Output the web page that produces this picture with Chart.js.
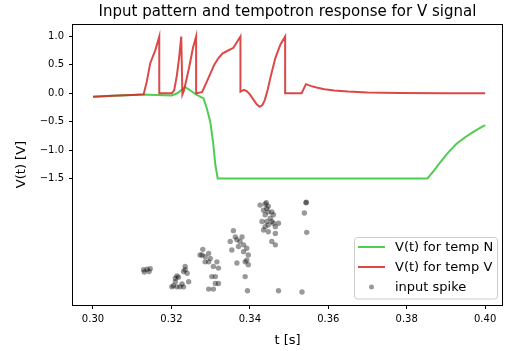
<!DOCTYPE html>
<html>
<head>
<meta charset="utf-8">
<script src="https://cdn.jsdelivr.net/npm/chart.js@4.4.0/dist/chart.umd.min.js"></script>
<style>
  html, body { margin: 0; padding: 0; background: #fff; }
  #wrap { width: 507px; height: 351px; }
</style>
</head>
<body>
<div id="wrap"><canvas id="chart" width="507" height="351"></canvas></div>
<script>
// Ticks
const xTicks = [0.30, 0.32, 0.34, 0.36, 0.38, 0.40];
const yTicks = [-1.5, -1.0, -0.5, 0.0, 0.5, 1.0];

// V(t) for temp N
const tempNTime = [0.300, 0.305, 0.310, 0.3127, 0.3160, 0.3201, 0.3215, 0.3235, 0.3250, 0.3265,
  0.3282, 0.3290, 0.3299, 0.3306, 0.3312, 0.3318, 0.3853, 0.3870, 0.3885, 0.3905, 0.3927,
  0.3950, 0.3970, 0.3985, 0.4000];
const tempNV = [-0.06, -0.045, -0.03, -0.02, -0.03, -0.04, 0.0, 0.11, 0.04, -0.03,
  -0.09, -0.26, -0.5, -0.85, -1.26, -1.5, -1.5, -1.36, -1.22, -1.05, -0.89,
  -0.77, -0.68, -0.62, -0.56];

// V(t) for temp V
const tempVTime = [0.300, 0.305, 0.310, 0.3129, 0.3137, 0.3146, 0.3159, 0.3169, 0.3169,
  0.3201, 0.3207, 0.3214, 0.3220, 0.3225, 0.3228, 0.3232, 0.3245, 0.3255, 0.3263, 0.3263,
  0.3278, 0.3290, 0.3309, 0.3320, 0.3330, 0.3341, 0.3358, 0.3376, 0.3376,
  0.3385, 0.3392, 0.3400, 0.3410, 0.3418, 0.3425, 0.3432, 0.3438, 0.3445, 0.3455, 0.3465,
  0.3478, 0.3490, 0.3490, 0.3532, 0.3543, 0.3555, 0.3570, 0.3590, 0.3615, 0.3650, 0.3700,
  0.3780, 0.3900, 0.4000];
const tempVV = [-0.06, -0.045, -0.03, -0.02, 0.2, 0.53, 0.76, 1.0, 0.0,
  0.0, 0.05, 0.32, 0.65, 1.0, -0.02, 0.05, 0.45, 0.8, 1.0, 0.0,
  0.02, 0.2, 0.5, 0.62, 0.70, 0.74, 0.80, 1.0, 0.03,
  0.06, 0.04, -0.02, -0.12, -0.20, -0.24, -0.21, -0.12, 0.05, 0.35, 0.62,
  0.86, 1.0, 0.0, 0.0, 0.16, 0.13, 0.10, 0.07, 0.05, 0.03, 0.015,
  0.005, 0.0, 0.0];

// input spikes (time, row)
const spikeT = [
  0.3129, 0.3138, 0.3143, 0.3131, 0.3146,
  0.3235, 0.3231, 0.3240, 0.3214, 0.3210, 0.3218, 0.3205, 0.3214, 0.3231, 0.3244, 0.3227, 0.3210, 0.3235, 0.3201, 0.3222,
  0.3280, 0.3278, 0.3286, 0.3295, 0.3299, 0.3286, 0.3295, 0.3316, 0.3307, 0.3320, 0.3312, 0.3303, 0.3312, 0.3295, 0.3307, 0.3320, 0.3273,
  0.3358, 0.3350, 0.3363, 0.3367, 0.3380, 0.3375, 0.3354, 0.3371, 0.3384, 0.3392, 0.3384, 0.3396, 0.3392, 0.3388, 0.3396, 0.3367, 0.3388, 0.3394,
  0.3426, 0.3439, 0.3443, 0.3435, 0.3447, 0.3456, 0.3460, 0.3439, 0.3452, 0.3431, 0.3443, 0.3456, 0.3473, 0.3447, 0.3465, 0.3435, 0.3447, 0.3465,
  0.3456, 0.3465, 0.3439, 0.3460, 0.3442, 0.3447,
  0.3543, 0.3544, 0.3539, 0.3545, 0.3473, 0.3533];
const spikeY = [
  -3.11, -3.10, -3.14, -3.15, -3.09,
  -3.05, -3.14, -3.17, -3.22, -3.26, -3.24, -3.39, -3.41, -3.41, -3.32, -3.36, -3.32, -3.11, -3.41, -3.41,
  -2.75, -2.85, -2.88, -2.82, -2.91, -2.97, -2.97, -2.97, -3.05, -3.08, -3.23, -3.23, -3.35, -3.45, -3.45, -3.35, -2.85,
  -2.42, -2.61, -2.53, -2.58, -2.53, -2.61, -2.76, -2.70, -2.67, -2.73, -2.79, -2.85, -2.94, -2.97, -3.02, -2.99, -3.23, -3.48,
  -1.97, -1.95, -2.03, -2.06, -2.09, -2.09, -2.14, -2.14, -2.20, -2.26, -2.26, -2.26, -2.29, -2.32, -2.35, -2.41, -2.44, -2.47,
  -2.61, -2.67, -2.35, -2.29, -1.93, -1.99,
  -1.93, -1.92, -2.11, -2.45, -3.48, -3.50];

const toPoints = (xs, ys) => xs.map((x, i) => ({ x: x, y: ys[i] }));

const greenColor = "rgba(60, 200, 60, 0.9)";
const redColor = "rgba(214, 40, 40, 0.85)";
const spikeColor = "rgba(0, 0, 0, 0.4)";

// box around the plot area, like matplotlib spines
const frame = {
  id: "frame",
  afterDatasetsDraw(chart) {
    const a = chart.chartArea;
    const c = chart.ctx;
    c.save();
    c.strokeStyle = "#000";
    c.lineWidth = 1;
    c.strokeRect(Math.round(a.left) - 0.5, Math.round(a.top) + 0.5,
      Math.round(a.right - a.left) + 1, Math.round(a.bottom - a.top));
    c.restore();
  }
};

// legend in the lower right corner
const boxLegend = {
  id: "boxLegend",
  afterDraw(chart) {
    const c = chart.ctx;
    const x0 = 354, y0 = 237.5, w = 143, h = 61.5;
    c.save();
    c.fillStyle = "rgba(255,255,255,0.8)";
    c.strokeStyle = "#cccccc";
    c.lineWidth = 1;
    c.beginPath();
    c.roundRect(x0 + 0.5, y0, w, h, 3);
    c.fill();
    c.stroke();
    c.font = "13px 'DejaVu Sans'";
    c.textBaseline = "middle";
    chart.data.datasets.slice().sort((p, q) => p.legendIndex - q.legendIndex).forEach((ds, i) => {
      const y = 247 + i * 20;
      if (ds.showLine === false) {
        c.fillStyle = ds.backgroundColor;
        c.beginPath();
        c.arc(371.5, y, 2.5, 0, Math.PI * 2);
        c.fill();
      } else {
        c.strokeStyle = ds.borderColor;
        c.lineWidth = 2;
        c.beginPath();
        c.moveTo(358, y);
        c.lineTo(385, y);
        c.stroke();
      }
      c.fillStyle = "#000";
      c.fillText(ds.label, 395, y + 0.5);
    });
    c.restore();
  }
};

new Chart(document.getElementById("chart"), {
  type: "line",
  data: {
    datasets: [
      {
        label: "V(t) for temp V",
        data: toPoints(tempVTime, tempVV),
        borderColor: redColor,
        borderWidth: 2,
        pointRadius: 0,
        tension: 0,
        order: 1,
        legendIndex: 1
      },
      {
        label: "V(t) for temp N",
        data: toPoints(tempNTime, tempNV),
        borderColor: greenColor,
        borderWidth: 2,
        pointRadius: 0,
        tension: 0,
        order: 2,
        legendIndex: 0
      },
      {
        type: "scatter",
        label: "input spike",
        data: toPoints(spikeT, spikeY),
        showLine: false,
        backgroundColor: spikeColor,
        borderWidth: 0,
        pointRadius: 2.7,
        order: 3,
        legendIndex: 2
      }
    ]
  },
  options: {
    responsive: false,
    animation: false,
    devicePixelRatio: 1,
    layout: { padding: { left: 0, right: 5, top: 0, bottom: 0 } },
    scales: {
      x: {
        type: "linear",
        min: 0.2949,
        max: 0.4043,
        afterBuildTicks: (scale) => { scale.ticks = xTicks.map((v) => ({ value: v })); },
        afterFit: (scale) => { scale.height = 46; },
        ticks: {
          autoSkip: false,
          maxRotation: 0,
          padding: 4,
          color: "#000",
          font: { family: "'DejaVu Sans'", size: 10 },
          callback: (v) => v.toFixed(2)
        },
        grid: { drawOnChartArea: false, drawTicks: true, tickLength: 4, color: "#000" },
        border: { display: false },
        title: { display: true, text: "t [s]", color: "#000", font: { family: "'DejaVu Sans'", size: 13 }, padding: { top: 0, bottom: 3 } }
      },
      y: {
        type: "linear",
        min: -3.73,
        max: 1.22,
        afterBuildTicks: (scale) => { scale.ticks = yTicks.map((v) => ({ value: v })); },
        afterFit: (scale) => { scale.width = 73; },
        ticks: {
          autoSkip: false,
          padding: 5,
          color: "#000",
          font: { family: "'DejaVu Sans'", size: 10 },
          callback: (v) => v.toFixed(1).replace("-", "\u2212")
        },
        grid: { drawOnChartArea: false, drawTicks: true, tickLength: 4, color: "#000" },
        border: { display: false },
        title: { display: true, text: "V(t) [V]", color: "#000", font: { family: "'DejaVu Sans'", size: 13 }, padding: { top: 14, bottom: 0 } }
      }
    },
    plugins: {
      legend: { display: false },
      tooltip: { enabled: false },
      title: {
        display: true,
        fullSize: false,
        text: "Input pattern and tempotron response for V signal",
        color: "#000",
        font: { family: "'DejaVu Sans'", size: 15, weight: "normal" },
        padding: { top: 3, bottom: 3 }
      }
    }
  },
  plugins: [frame, boxLegend]
});
</script>
</body>
</html>
